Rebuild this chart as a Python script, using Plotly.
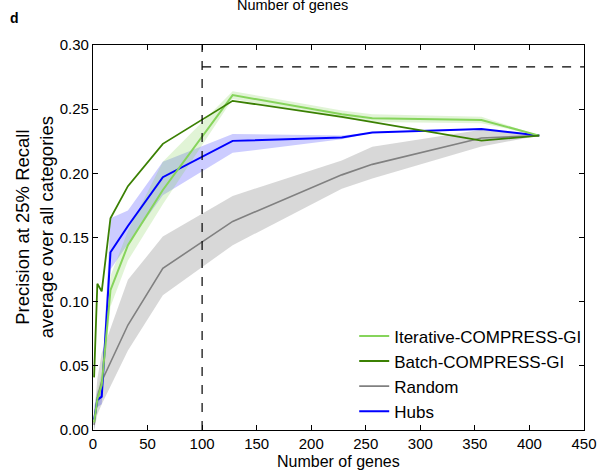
import plotly.graph_objects as go

# ---- data ----
iter_x = [1, 4, 8, 16, 32, 64, 128, 228, 256, 356, 409]
iter_y = [0.006, 0.024, 0.035, 0.109, 0.144, 0.187, 0.261, 0.246, 0.243, 0.2416, 0.2294]
iter_lo = [0.000, 0.018, 0.027, 0.096, 0.132, 0.176, 0.258, 0.243, 0.240, 0.239, 0.2294]
iter_hi = [0.012, 0.030, 0.045, 0.120, 0.155, 0.209, 0.264, 0.249, 0.246, 0.244, 0.2294]

batch_x = [1, 4, 8, 16, 32, 64, 128, 228, 356, 409]
batch_y = [0.041, 0.114, 0.108, 0.165, 0.190, 0.223, 0.2565, 0.244, 0.2255, 0.2294]

rand_x = [1, 4, 8, 32, 64, 128, 228, 256, 356, 409]
rand_y = [0.004, 0.025, 0.038, 0.0818, 0.126, 0.1625, 0.1988, 0.207, 0.2275, 0.2294]
rand_lo = [0.000, 0.012, 0.020, 0.062, 0.105, 0.144, 0.188, 0.196, 0.221, 0.2294]
rand_hi = [0.010, 0.040, 0.060, 0.117, 0.1507, 0.1824, 0.210, 0.2208, 0.234, 0.2294]

hubs_x = [1, 4, 8, 16, 32, 64, 128, 228, 256, 356, 409]
hubs_y = [0.008, 0.0235, 0.026, 0.1385, 0.159, 0.197, 0.2253, 0.228, 0.2318, 0.2346, 0.2294]
hubs_lo = [0.000, 0.018, 0.020, 0.125, 0.145, 0.183, 0.216, 0.2265, 0.2318, 0.2346, 0.2294]
hubs_hi = [0.018, 0.030, 0.035, 0.165, 0.171, 0.209, 0.2307, 0.2295, 0.2318, 0.2346, 0.2294]

threshold_x = 100
threshold_y = 0.283
x_max = 450
y_max = 0.30

FONT = "Liberation Sans, Arial, sans-serif"

C_ITER = "#86d45b"
C_BATCH = "#3b8003"
C_RAND = "#808080"
C_HUBS = "#0000ff"

fig = go.Figure()


def band(x, lo, hi, color):
    fig.add_trace(go.Scatter(
        x=list(x) + list(x)[::-1],
        y=list(hi) + list(lo)[::-1],
        fill="toself", fillcolor=color,
        line=dict(width=0), mode="lines",
        hoverinfo="skip", showlegend=False))


band(rand_x, rand_lo, rand_hi, "rgba(190,190,190,0.6)")
band(hubs_x, hubs_lo, hubs_hi, "rgba(0,0,255,0.2)")
band(iter_x, iter_lo, iter_hi, "rgba(134,212,91,0.25)")

fig.add_trace(go.Scatter(x=rand_x, y=rand_y, mode="lines", name="Random",
                         line=dict(color=C_RAND, width=1.6), legendrank=3))
fig.add_trace(go.Scatter(x=hubs_x, y=hubs_y, mode="lines", name="Hubs",
                         line=dict(color=C_HUBS, width=2), legendrank=4))
fig.add_trace(go.Scatter(x=iter_x, y=iter_y, mode="lines", name="Iterative-COMPRESS-GI",
                         line=dict(color=C_ITER, width=2), legendrank=1))
fig.add_trace(go.Scatter(x=batch_x, y=batch_y, mode="lines", name="Batch-COMPRESS-GI",
                         line=dict(color=C_BATCH, width=1.8), legendrank=2))

# dashed reference lines
fig.add_shape(type="line", xref="x", yref="y", x0=threshold_x, x1=threshold_x,
              y0=0, y1=y_max, line=dict(color="black", width=1.2, dash="dash"))
fig.add_shape(type="line", xref="x", yref="y", x0=threshold_x, x1=x_max,
              y0=threshold_y, y1=threshold_y, line=dict(color="black", width=1.2, dash="dash"))

axis_common = dict(showline=True, linecolor="black", linewidth=1.2, mirror="ticks",
                   ticks="inside", ticklen=5, tickcolor="black", showgrid=False,
                   zeroline=False, tickfont=dict(family=FONT, size=15, color="black"))

fig.update_xaxes(range=[0, x_max], dtick=50, **axis_common)
fig.update_yaxes(range=[0, y_max], dtick=0.05, tickformat=".2f", **axis_common)

fig.add_annotation(text="Number of genes", xref="paper", yref="paper",
                   x=0.5, y=-0.083, xanchor="center", yanchor="middle", showarrow=False,
                   font=dict(family=FONT, size=16, color="black"))
fig.add_annotation(text="Precision at 25% Recall<br>average over all categories",
                   xref="paper", yref="paper", x=-0.12, y=0.527, textangle=-90,
                   xanchor="center", yanchor="middle", showarrow=False,
                   font=dict(family=FONT, size=18.5, color="black"))
fig.add_annotation(text="Number of genes", xref="paper", yref="paper",
                   x=0.407, y=1.105, xanchor="center", yanchor="middle", showarrow=False,
                   font=dict(family=FONT, size=14.5, color="black"))
fig.add_annotation(text="<b>d</b>", xref="paper", yref="paper",
                   x=-0.16, y=1.07, xanchor="center", yanchor="middle", showarrow=False,
                   font=dict(family=FONT, size=14, color="black"))

fig.update_layout(
    width=609, height=472,
    margin=dict(l=93, r=18, t=45, b=42),
    plot_bgcolor="white", paper_bgcolor="white",
    legend=dict(x=0.532, y=0.29, xanchor="left", yanchor="top",
                bgcolor="rgba(0,0,0,0)", font=dict(family=FONT, size=17, color="black"),
                tracegroupgap=0, itemwidth=30),
)

fig.write_html("out.html", config={"displayModeBar": False},
               post_script="document.body.style.margin='0px';document.body.style.overflow='hidden';")
